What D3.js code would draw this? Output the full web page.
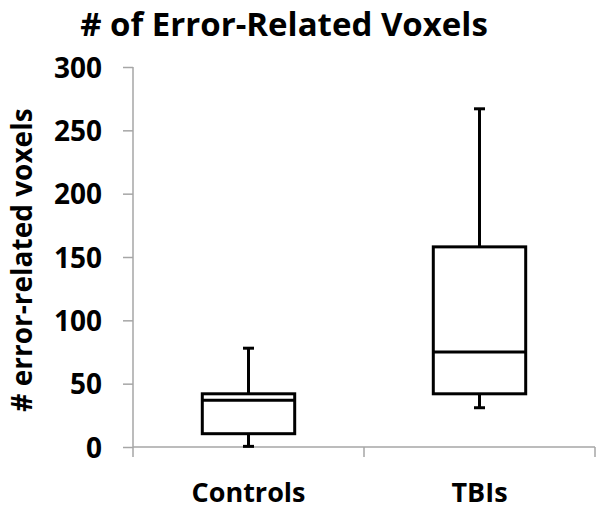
<!DOCTYPE html>
<html>
<head>
<meta charset="utf-8">
<script src="https://cdn.jsdelivr.net/npm/d3@7"></script>
<style>
  body { margin: 0; background: #fff; }
  text { font-family: "Open Sans", sans-serif; font-weight: bold; fill: #000; }
</style>
</head>
<body>
<div id="chartDiv"></div>
<script>
// box plot summary values
const groups = ["Controls", "TBIs"];
const mins    = [0.5, 31];
const q1s     = [10.5, 42];
const medians = [37, 75];
const q3s     = [42, 158];
const maxs    = [78, 267];
const yTicks  = [0, 50, 100, 150, 200, 250, 300];

const width = 601, height = 509;
const margin = { left: 133, right: 6, top: 67, bottom: 62 };

const svg = d3.select('#chartDiv').append('svg')
    .attr('width', width)
    .attr('height', height);

const yScale = d3.scaleLinear()
    .domain([0, 300])
    .range([height - margin.bottom, margin.top]);

const xScale = d3.scaleBand()
    .domain(groups)
    .range([margin.left, width - margin.right]);

const axisColor = '#a6a6a6';

// y axis
const yAxis = svg.append('g')
    .attr('transform', `translate(${margin.left},0)`)
    .call(d3.axisLeft(yScale).tickValues(yTicks).tickSize(10).tickSizeOuter(0).tickPadding(21));
yAxis.select('.domain').remove();
yAxis.selectAll('line').attr('stroke', axisColor).attr('stroke-width', 1.5);
yAxis.selectAll('text')
    .attr('font-size', 28)
    .attr('dy', '0.36em');

// the y line runs a little below the x axis, like the category ticks
svg.append('line')
    .attr('x1', margin.left).attr('x2', margin.left)
    .attr('y1', yScale(300)).attr('y2', yScale(0) + 10)
    .attr('stroke', axisColor).attr('stroke-width', 1.5);

// x axis
svg.append('line')
    .attr('x1', margin.left).attr('x2', width - margin.right)
    .attr('y1', yScale(0)).attr('y2', yScale(0))
    .attr('stroke', axisColor).attr('stroke-width', 1.5);

svg.selectAll('.catTick')
    .data(groups)
    .enter().append('line')
    .attr('class', 'catTick')
    .attr('x1', d => xScale(d) + xScale.bandwidth())
    .attr('x2', d => xScale(d) + xScale.bandwidth())
    .attr('y1', yScale(0)).attr('y2', yScale(0) + 10)
    .attr('stroke', axisColor).attr('stroke-width', 1.5);

svg.selectAll('.catLabel')
    .data(groups)
    .enter().append('text')
    .attr('class', 'catLabel')
    .attr('x', d => xScale(d) + xScale.bandwidth() / 2)
    .attr('y', 502)
    .attr('text-anchor', 'middle')
    .attr('font-size', 27)
    .text(d => d);

// boxes
const boxW = xScale.bandwidth() * 0.4;
const capW = 11;
const boxes = svg.selectAll('.box')
    .data(groups.map((g, i) => ({ g, min: mins[i], q1: q1s[i], med: medians[i], q3: q3s[i], max: maxs[i] })))
    .enter().append('g')
    .attr('class', 'box')
    .attr('transform', d => `translate(${xScale(d.g) + xScale.bandwidth() / 2},0)`);

boxes.append('line')
    .attr('x1', 0).attr('x2', 0)
    .attr('y1', d => yScale(d.max)).attr('y2', d => yScale(d.q3))
    .attr('stroke', '#000').attr('stroke-width', 3);
boxes.append('line')
    .attr('x1', 0).attr('x2', 0)
    .attr('y1', d => yScale(d.q1)).attr('y2', d => yScale(d.min))
    .attr('stroke', '#000').attr('stroke-width', 3);
boxes.append('line')
    .attr('x1', -capW / 2).attr('x2', capW / 2)
    .attr('y1', d => yScale(d.max)).attr('y2', d => yScale(d.max))
    .attr('stroke', '#000').attr('stroke-width', 3);
boxes.append('line')
    .attr('x1', -capW / 2).attr('x2', capW / 2)
    .attr('y1', d => yScale(d.min)).attr('y2', d => yScale(d.min))
    .attr('stroke', '#000').attr('stroke-width', 3);
boxes.append('rect')
    .attr('x', -boxW / 2)
    .attr('width', boxW)
    .attr('y', d => yScale(d.q3))
    .attr('height', d => yScale(d.q1) - yScale(d.q3))
    .attr('fill', '#fff')
    .attr('stroke', '#000').attr('stroke-width', 3);
boxes.append('line')
    .attr('x1', -boxW / 2).attr('x2', boxW / 2)
    .attr('y1', d => yScale(d.med)).attr('y2', d => yScale(d.med))
    .attr('stroke', '#000').attr('stroke-width', 3);

// titles
svg.append('text')
    .attr('x', 284)
    .attr('y', 36)
    .attr('text-anchor', 'middle')
    .attr('font-size', 33)
    .text('# of Error-Related Voxels');

svg.append('text')
    .attr('transform', `translate(32,260) rotate(-90)`)
    .attr('text-anchor', 'middle')
    .attr('font-size', 28)
    .text('# error-related voxels');
</script>
</body>
</html>
